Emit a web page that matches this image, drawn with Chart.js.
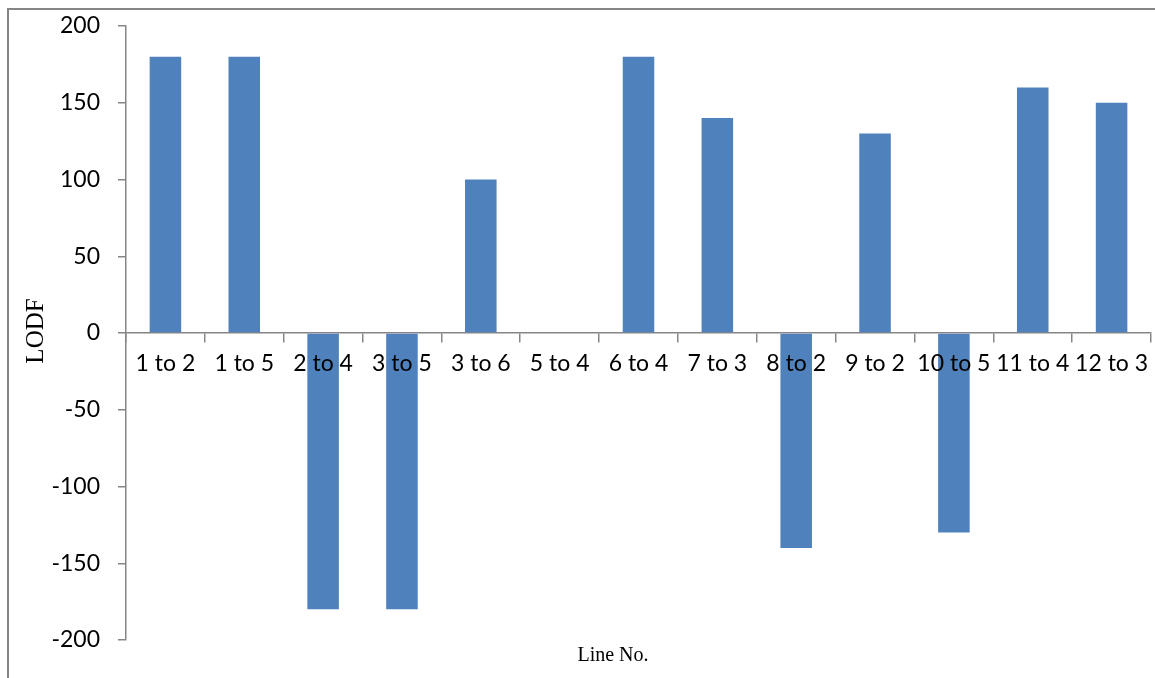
<!DOCTYPE html>
<html>
<head>
<meta charset="utf-8">
<title>LODF by line</title>
<script src="https://cdn.jsdelivr.net/npm/chart.js@4/dist/chart.umd.min.js"></script>
<style>
  html, body { margin: 0; padding: 0; background: #ffffff; }
  #chart-wrap { position: relative; width: 1155px; height: 678px; }
</style>
</head>
<body>
<div id="chart-wrap">
  <canvas id="lodfChart" width="1155" height="678"></canvas>
</div>
<script>
// Line outage distribution factors per line
const lineLabels = ['1 to 2', '1 to 5', '2 to 4', '3 to 5', '3 to 6', '5 to 4', '6 to 4',
  '7 to 3', '8 to 2', '9 to 2', '10 to 5', '11 to 4', '12 to 3'];
const lodfValues = [180, 180, -180, -180, 100, 0, 180, 140, -140, 130, -130, 160, 150];
const yTicks = [-200, -150, -100, -50, 0, 50, 100, 150, 200];

const AXIS_GREY = '#868686';
const BAR_BLUE = '#4F81BD';
const tickFont = { family: 'Lato', size: 23 };

// outer frame + axis titles, drawn straight on the canvas
const framePlugin = {
  id: 'frameAndTitles',
  beforeDraw(chart) {
    const ctx = chart.ctx;
    ctx.save();
    ctx.strokeStyle = AXIS_GREY;
    ctx.lineWidth = 2;
    ctx.beginPath();
    ctx.moveTo(8, chart.height);
    ctx.lineTo(8, 9);
    ctx.lineTo(chart.width, 9);
    ctx.stroke();
    ctx.restore();
  },
  afterDraw(chart) {
    const ctx = chart.ctx;
    ctx.save();
    ctx.fillStyle = '#000000';
    ctx.textAlign = 'center';
    ctx.textBaseline = 'middle';

    ctx.font = '25px "Liberation Serif"';
    ctx.translate(36, 331);
    ctx.rotate(-Math.PI / 2);
    ctx.fillText('LODF', 0, 0);
    ctx.setTransform(1, 0, 0, 1, 0, 0);

    ctx.font = '20px "Liberation Serif"';
    ctx.fillText('Line No.', 613, 656);
    ctx.restore();
  }
};

// keep label overhang from pushing the plot area around
function noOverhang(scale) {
  scale.paddingTop = 0;
  scale.paddingBottom = 0;
  scale.paddingLeft = 0;
  scale.paddingRight = 0;
}

function buildChart() {
  const canvas = document.getElementById('lodfChart');

  return new Chart(canvas, {
    type: 'bar',
    data: {
      labels: lineLabels,
      datasets: [{
        label: 'LODF',
        data: lodfValues,
        backgroundColor: BAR_BLUE,
        borderWidth: 0,
        barPercentage: 0.4,
        categoryPercentage: 1.0
      }]
    },
    options: {
      responsive: false,
      animation: false,
      layout: {
        padding: { left: 0, top: 26, right: 4, bottom: 38 }
      },
      plugins: {
        legend: { display: false },
        tooltip: { enabled: false }
      },
      scales: {
        x: {
          position: { y: 0 },
          offset: true,
          afterFit: noOverhang,
          grid: {
            offset: true,
            drawOnChartArea: false,
            drawTicks: true,
            tickLength: 9,
            color: AXIS_GREY,
            lineWidth: 1.5
          },
          border: { display: true, color: AXIS_GREY, width: 1.5 },
          ticks: {
            z: 1, // category labels sit on top of the bars
            color: '#000000',
            font: tickFont,
            padding: 8,
            maxRotation: 0,
            autoSkip: false
          }
        },
        y: {
          min: -200,
          max: 200,
          afterBuildTicks(scale) {
            scale.ticks = yTicks.map(v => ({ value: v }));
          },
          afterFit(scale) {
            scale.width = 126;
            noOverhang(scale);
          },
          grid: {
            drawOnChartArea: false,
            drawTicks: true,
            tickLength: 8,
            color: AXIS_GREY,
            lineWidth: 1.5
          },
          border: { display: true, color: AXIS_GREY, width: 1.5 },
          ticks: {
            color: '#000000',
            font: tickFont,
            padding: 18
          }
        }
      }
    },
    plugins: [framePlugin]
  });
}

document.addEventListener('DOMContentLoaded', () => {
  buildChart();
});
</script>
</body>
</html>
